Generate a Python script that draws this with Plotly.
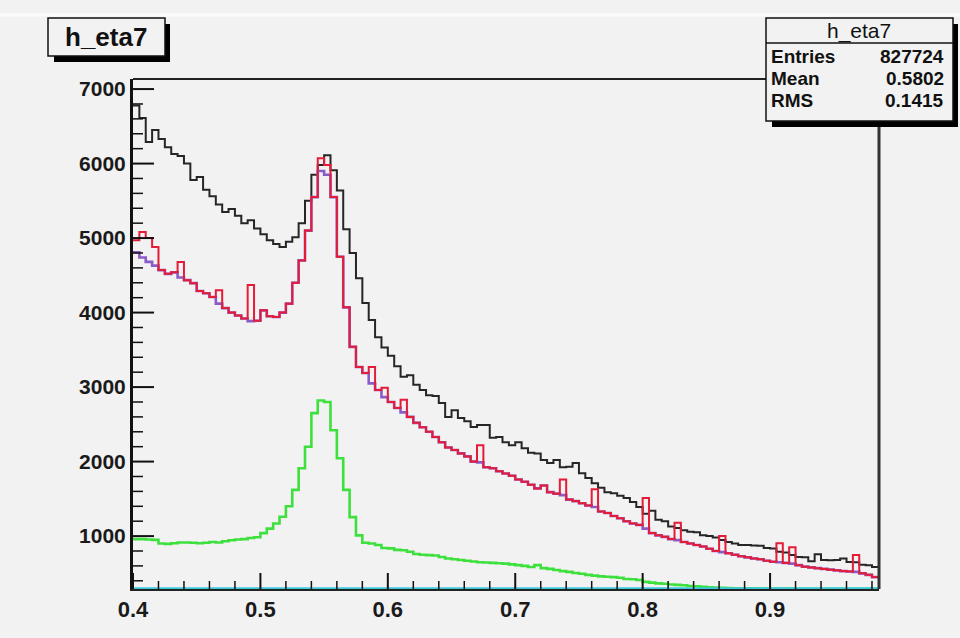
import numpy as np
import plotly.graph_objects as go

# ---------------- data ----------------
bin_width = 0.005
x_start = 0.4

# total (black)
total = [6780, 6610, 6290, 6450, 6330, 6220, 6130, 6100, 6000, 5780,
         5820, 5650, 5560, 5450, 5350, 5390, 5300, 5200, 5240, 5130,
         5050, 4970, 4920, 4880, 4950, 5010, 5200, 5500, 5850, 5980,
         6110, 5910, 5640, 5120, 4800, 4460, 4130, 3900, 3670, 3530,
         3420, 3280, 3140, 3160, 3030, 2960, 2890, 2880, 2785, 2600,
         2690, 2585, 2540, 2465, 2490, 2490, 2320, 2330, 2260, 2220,
         2260, 2180, 2120, 2110, 2020, 1980, 2020, 1925, 1930, 1980,
         1845, 1780, 1710, 1650, 1590, 1575, 1540, 1510, 1456, 1390,
         1300, 1340, 1220, 1200, 1130, 1110, 1080, 1060, 1050, 1013,
         1000, 980, 946, 920, 900, 880, 880, 875, 870, 840,
         835, 790, 780, 745, 720, 715, 664, 758, 680, 675,
         678, 700, 651, 650, 615, 610, 584]

# background component (purple)
background = [4810, 4740, 4680, 4630, 4570, 4520, 4540, 4470, 4435, 4395,
              4290, 4260, 4210, 4120, 4060, 4000, 3960, 3920, 3885, 3890,
              4030, 3950, 3940, 4000, 4120, 4400, 4700, 5100, 5550, 5900,
              5850, 5550, 4750, 4070, 3540, 3270, 3190, 3050, 2960, 2865,
              2800, 2720, 2660, 2600, 2520, 2460, 2400, 2330, 2260, 2190,
              2155, 2110, 2070, 2000, 1990, 1925, 1910, 1870, 1840, 1810,
              1760, 1730, 1690, 1640, 1680, 1590, 1570, 1550, 1490, 1470,
              1440, 1410, 1390, 1330, 1310, 1270, 1240, 1200, 1170, 1150,
              1100, 1040, 1010, 990, 960, 946, 920, 900, 880, 860,
              830, 800, 785, 770, 750, 730, 715, 700, 690, 670,
              655, 650, 640, 630, 610, 590, 580, 570, 560, 550,
              540, 530, 525, 520, 500, 480, 450]

# fit / sum (red) — equals background except in a few bins
fit = list(background)
fit_diffs = {0: 4970, 1: 5080, 2: 5000, 3: 4880, 7: 4680, 13: 4300,
             18: 4370, 29: 6070, 30: 5980, 37: 3270, 39: 2990, 42: 2830,
             54: 2220, 67: 1760, 72: 1630, 80: 1510, 85: 1180, 92: 1000,
             101: 905, 103: 850, 113: 745}
for k, v in fit_diffs.items():
    fit[k] = v

# signal (green)
signal = [960, 960, 955, 950, 900, 895, 905, 915, 915, 910,
          905, 910, 920, 915, 930, 945, 955, 960, 975, 985,
          1040, 1100, 1170, 1260, 1400, 1620, 1910, 2200, 2650, 2820,
          2800, 2420, 2045, 1620, 1255, 1010, 910, 900, 880, 840,
          835, 815, 810, 790, 760, 750, 745, 740, 720, 700,
          690, 680, 670, 660, 650, 645, 640, 635, 630, 620,
          610, 600, 585, 610, 570, 560, 545, 530, 520, 505,
          495, 480, 470, 460, 455, 450, 440, 425, 420, 410,
          385, 375, 365, 360, 350, 345, 340, 330, 325, 318,
          312, 308, 305, 303, 300, 300, 298, 298, 296, 296,
          295, 295, 295, 295, 294, 294, 294, 293, 293, 293,
          293, 292, 292, 292, 292, 292, 292]

# zero-level component (cyan), sits on the lower edge of the frame
zero_comp = [292] * len(total)

stats_title = "h_eta7"
stats_rows = [("Entries", "827724"), ("Mean", "0.5802"), ("RMS", "0.1415")]

x_major = [0.4, 0.5, 0.6, 0.7, 0.8, 0.9]
y_major = [1000, 2000, 3000, 4000, 5000, 6000, 7000]

# ---------------- figure ----------------
nb = len(total)
edges = np.round(x_start + bin_width * np.arange(nb + 1), 4)


def step(vals):
    return list(edges), list(vals) + [vals[-1]]


BG = "#f2f2f2"
YR = [290, 7135]
XR = [0.4, 0.9855]
fig = go.Figure()
series = [(total, "#262626", 2.0),
          (background, "#8a5cc8", 2.6),
          (fit, "#e41c38", 2.0),
          (signal, "#3ee03e", 2.6),
          (zero_comp, "#3cc8dc", 3.0)]
for vals, col, w in series:
    xs, ys = step(vals)
    fig.add_trace(go.Scatter(x=xs, y=ys, mode="lines",
                             line=dict(color=col, width=w, shape="hv"),
                             hoverinfo="skip", showlegend=False))

L, R, T, B = 133, 879, 79, 589
W, H = R - L, B - T


def px(x):
    return (x - L) / W


def py(y):
    return (B - y) / H


fig.update_layout(
    width=960, height=638,
    margin=dict(l=L, r=960 - R, t=T, b=638 - B, pad=0),
    paper_bgcolor=BG, plot_bgcolor=BG,
    font=dict(family="Liberation Sans, Arial, sans-serif", color="#1a1a1a"),
    showlegend=False,
    xaxis=dict(range=XR, showgrid=False, zeroline=False,
               tickvals=x_major, ticktext=[f"{v:.1f}" for v in x_major], ticks="",
               showline=True, linecolor="#222", linewidth=2,
               tickfont=dict(size=22, weight="bold", color="#1a1a1a")),
    yaxis=dict(range=YR, showgrid=False, zeroline=False,
               tickvals=y_major, ticktext=[str(v) for v in y_major], ticks="",
               showline=True, linecolor="#111", linewidth=3,
               tickfont=dict(size=21, weight="bold", color="#1a1a1a")),
)

shapes = []
# inward tick marks (ROOT style), placed through the axes' own scales
x_minor = [v for v in np.round(np.arange(0.42, XR[1], 0.02), 3) if not np.isclose(v * 10, round(v * 10))]
y_minor = [v for v in range(400, 7001, 200) if v % 1000]
for v in x_major:
    shapes.append(dict(type="line", xref="x", yref="paper", x0=v, x1=v, y0=0, y1=16 / H,
                       line=dict(color="#111", width=2)))
for v in x_minor:
    shapes.append(dict(type="line", xref="x", yref="paper", x0=v, x1=v, y0=0, y1=8 / H,
                       line=dict(color="#111", width=1.5)))
for v in y_major:
    shapes.append(dict(type="line", xref="paper", yref="y", x0=0, x1=21 / W, y0=v, y1=v,
                       line=dict(color="#111", width=2)))
for v in y_minor:
    shapes.append(dict(type="line", xref="paper", yref="y", x0=0, x1=10 / W, y0=v, y1=v,
                       line=dict(color="#111", width=1.5)))
# faint top line of the canvas
shapes.append(dict(type="line", xref="paper", yref="paper", x0=px(0), x1=px(960), y0=py(15), y1=py(15),
                   line=dict(color="#fbfbfb", width=3)))
# top and right frame lines
shapes.append(dict(type="line", xref="paper", yref="paper", x0=0, x1=1, y0=1, y1=1,
                   line=dict(color="#222", width=2)))
shapes.append(dict(type="line", xref="paper", yref="paper", x0=1, x1=1, y0=0, y1=1,
                   line=dict(color="#333", width=3)))
# title box with shadow
shapes.append(dict(type="rect", xref="paper", yref="paper", x0=px(54), x1=px(170), y0=py(62), y1=py(24),
                   fillcolor="#000", line=dict(width=0)))
shapes.append(dict(type="rect", xref="paper", yref="paper", x0=px(48), x1=px(165), y0=py(56), y1=py(18),
                   fillcolor=BG, line=dict(color="#111", width=1.5)))
# stats box with shadow
shapes.append(dict(type="rect", xref="paper", yref="paper", x0=px(772), x1=px(958), y0=py(127), y1=py(24),
                   fillcolor="#000", line=dict(width=0)))
shapes.append(dict(type="rect", xref="paper", yref="paper", x0=px(766), x1=px(953), y0=py(121), y1=py(18),
                   fillcolor=BG, line=dict(color="#111", width=1.5)))
shapes.append(dict(type="line", xref="paper", yref="paper", x0=px(766), x1=px(953), y0=py(43), y1=py(43),
                   line=dict(color="#111", width=1.5)))
fig.update_layout(shapes=shapes)

ann = []
ann.append(dict(text="h_eta7", x=px(106), y=py(37), xref="paper", yref="paper", showarrow=False,
                xanchor="center", yanchor="middle", font=dict(size=26, weight="bold", color="#111")))
ann.append(dict(text=stats_title, x=px(859), y=py(31), xref="paper", yref="paper", showarrow=False,
                xanchor="center", yanchor="middle", font=dict(size=21, color="#111")))
for i, (k, v) in enumerate(stats_rows):
    yy = 56.5 + 22 * i
    ann.append(dict(text=k, x=px(769), y=py(yy), xref="paper", yref="paper", showarrow=False,
                    xanchor="left", yanchor="middle",
                    font=dict(size=19, weight="bold", color="#111")))
    ann.append(dict(text=v, x=px(946), y=py(yy), xref="paper", yref="paper", showarrow=False,
                    xanchor="right", yanchor="middle",
                    font=dict(size=19, weight="bold", color="#111")))
fig.update_layout(annotations=ann)

fig.write_html("out.html")
